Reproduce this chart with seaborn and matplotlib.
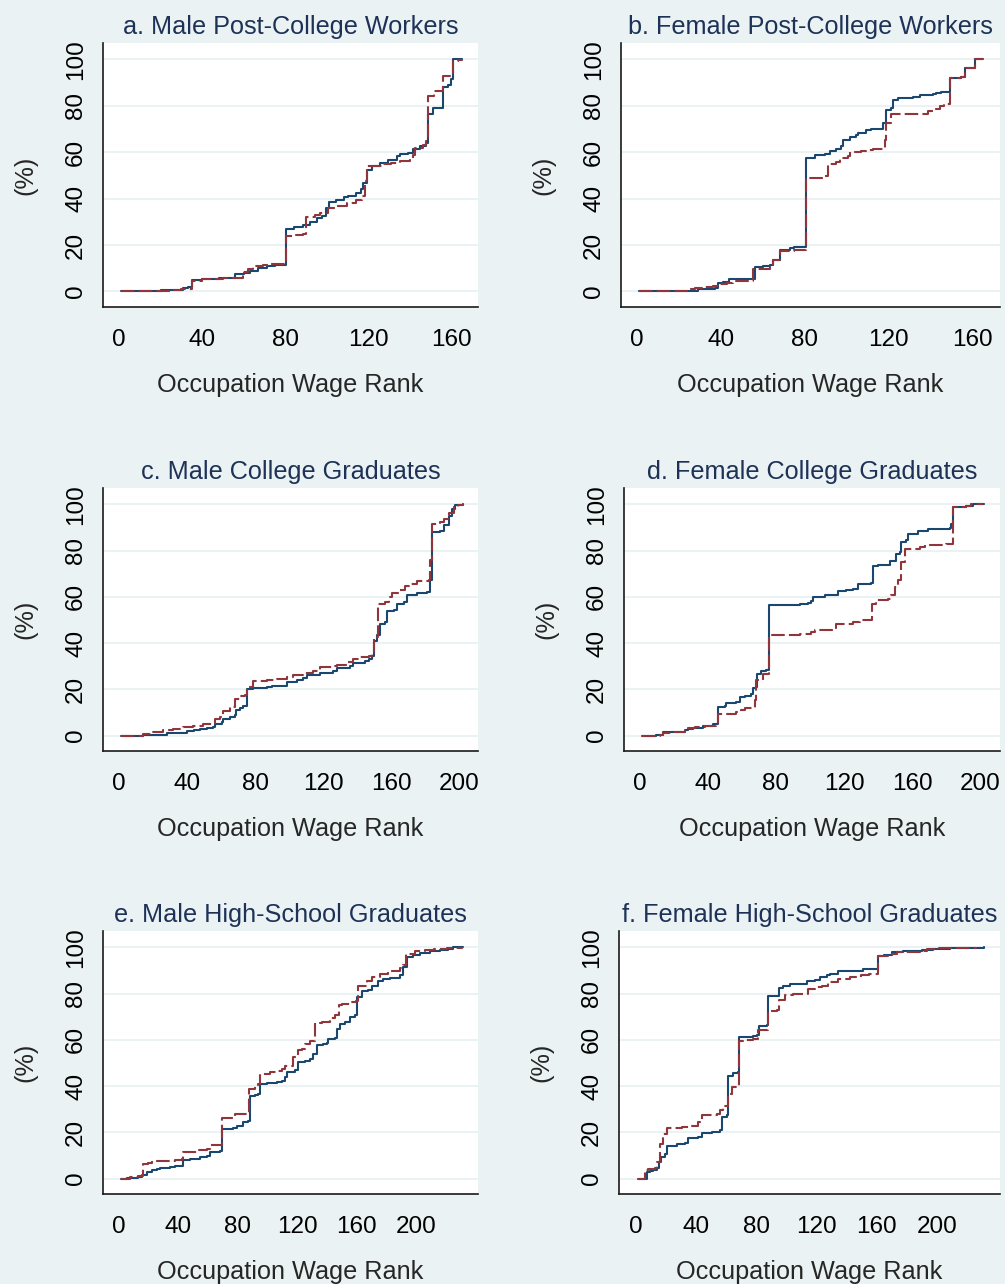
import matplotlib
matplotlib.use("Agg")
import matplotlib.pyplot as plt
import seaborn as sns
import pandas as pd

# ---- data: cumulative share (%) by occupation wage rank ----
# a. Male Post-College Workers
a_solid_x = [1, 10, 20, 28, 31, 33, 35, 40, 48, 56, 60, 63, 67, 71, 75, 80.5, 84, 88.5, 92, 95, 97.5, 99.5, 101,
             104.5, 108, 110, 114, 116.5, 117.5, 119, 121.5, 125.5, 129.5, 133.5, 135, 139, 141.5, 144.5, 147.5,
             148.6, 151, 155.8, 158, 159.8, 160.6, 165]
a_solid_y = [0, 0.3, 0.6, 0.8, 1.5, 2, 5, 5.5, 5.8, 7.5, 8, 9, 10, 11, 11.5, 26.9, 28, 28.8, 29.8, 31.7, 32.4, 36, 38.4,
             39.6, 40.7, 41.3, 42.4, 44, 46.8, 52.2, 54.2, 55.4, 56.8, 58.3, 59.4, 59.7, 61.4, 62.6, 64,
             76.3, 79.1, 88.2, 89, 91.4, 100, 100]
a_dash_x = [1, 15, 25, 30, 35, 39.7, 50, 55, 59.7, 62, 64.5, 69, 72, 80.5, 85, 88.6, 90, 94, 96.6, 100.6, 104.6, 109.4,
            114, 116.6, 118.2, 119, 127, 131, 135, 139.8, 141.4, 142.5, 146.2, 147.8, 148.6, 151.5, 155.8, 158,
            160.6, 163, 165]
a_dash_y = [0, 0.3, 0.8, 1.2, 4.6, 5.3, 5.8, 6, 8.6, 9.5, 10.8, 11.5, 11.8, 23.7, 24.3, 24.7, 32, 33, 34, 36, 36.7, 38.1,
            39.3, 41.3, 47.5, 54, 55, 55.4, 56.1, 57.6, 59, 61.9, 63.3, 64.7, 84.2, 86.6, 92.8, 93,
            99.3, 99.6, 100]

# b. Female Post-College Workers
b_solid_x = [1, 28.4, 29, 37, 38.7, 41, 44, 56, 60, 63.3, 65, 68, 72.8, 75, 80.7, 84.7, 89.4, 91.8, 95, 97.4, 98,
             101.3, 104.5, 105.3, 109.3, 111.6, 117.2, 118.8, 121, 122, 124.3, 131.5, 134.6, 141, 142.6, 145, 149,
             154.5, 156, 160.8, 165]
b_solid_y = [0, 0, 1.2, 1.4, 3.6, 4, 5.3, 10.4, 10.8, 11.5, 13.7, 18, 18.7, 19.1, 57.6, 59, 59.3, 60.4, 61.6, 62.9, 65.2,
             66.6, 67.6, 68.3, 69.5, 70.2, 72.7, 78.4, 79.1, 82.4, 83.5, 83.9, 84.6, 85.3, 85.6, 85.9, 91.8,
             92.4, 96.4, 100, 100]
b_dash_x = [1, 16.5, 23.6, 27.6, 31.5, 36.3, 39.5, 42.7, 45.8, 55.5, 63.3, 65, 68, 75, 80.7, 89.4, 91, 95, 96.6, 100.5,
            101.3, 106.8, 109.3, 112.4, 115.6, 118, 118.8, 121, 134, 138.6, 141.8, 144.2, 146, 149, 154.5, 156,
            160.8, 165]
b_dash_y = [0.3, 0.4, 1, 1.4, 1.9, 2.4, 3.3, 3.8, 4.3, 9.6, 10.8, 13.7, 17.3, 17.7, 48.9, 49.6, 55.1, 55.7, 57.6, 58.3,
            60, 60.4, 60.9, 61.2, 61.4, 65.5, 72.4, 76.3, 76.7, 77.7, 78.7, 80.1, 80.6, 91.8, 92.4, 96.4,
            100, 100]

# c. Male College Graduates
c_solid_x = [1, 14, 28, 40, 44, 47.6, 51.6, 55.5, 56.5, 60.4, 61.4, 65.3, 68.2, 68.8, 71.2, 73, 75.5, 79, 86.9, 89.8,
             96.7, 98.6, 104.5, 108.4, 110.4, 118.2, 126, 128, 135.9, 137.8, 144.7, 146.7, 148.6, 149.6, 151.6,
             153.5, 156.5, 157.5, 161.4, 163.3, 167.3, 169.2, 175, 181, 183, 183.9, 188.8, 190.8, 193.7, 195.7,
             197.6, 202.2]
c_solid_y = [0, 0.4, 1, 1.9, 2.2, 2.7, 3.3, 3.9, 5, 5.8, 7.2, 8.2, 8.7, 11.1, 12, 12.7, 20.2, 20.6, 20.9, 21.4,
             21.6, 23.1, 24.2, 25, 26, 27, 27.7, 29.3, 30, 31.5, 32.2, 33.2, 34.6, 41.1, 43.3,
             48.3, 49, 53.8, 54.1, 57, 57.7, 61, 61.6, 62.3, 67.1, 88, 88.5, 90.9, 95.2, 98.1,
             99.6, 100]
c_dash_x = [1, 14, 20.2, 26, 32, 37.8, 43.7, 49.6, 55.5, 56.5, 59.4, 61.4, 65.3, 68.2, 71.2, 74.1, 75.5, 79, 86.9, 92.7,
            98.6, 102.5, 108.4, 114.3, 118.2, 126, 128, 133.9, 137.8, 141.8, 146.7, 148.6, 149.6, 152.5, 156.5,
            158.4, 160.4, 165.3, 168.2, 170.2, 175.1, 182, 183, 183.9, 188.8, 190.8, 193.7, 196.7, 199, 202]
c_dash_y = [0, 0.7, 1.4, 2.6, 3, 3.9, 4.3, 5, 5.3, 7.2, 7.9, 10.5, 12.3, 15.9, 16.9, 17.7, 21.2, 23.8, 24.1, 24.4,
            25.5, 26.4, 27, 28.1, 29.6, 29.9, 30.7, 31.7, 33.2, 33.9, 34.2, 35.1, 42.6, 57, 57.7,
            59.9, 61.6, 63.1, 64.5, 65.7, 66.8, 67.1, 75.8, 91.6, 92.4, 93.8, 96.2, 98.8, 99.6, 100]

# d. Female College Graduates
d_solid_x = [1, 9.6, 11.6, 13.5, 19.4, 26.3, 28.2, 31.2, 37.1, 42.9, 44.9, 45.9, 49.8, 50.8, 56.7, 58.6, 61.6, 65.5,
             66.5, 68, 68.8, 71.4, 74.3, 75.9, 86.1, 93.9, 98.8, 100.8, 101.8, 108.6, 115.5, 116.5, 121.4, 125.3,
             128.2, 136.1, 137.1, 140, 146.9, 150.8, 152.7, 153.7, 156.7, 157.6, 161.6, 163.5, 167.5, 169.4,
             182.2, 183.1, 184.1, 192, 195.9, 202.2]
d_solid_y = [0, 0.1, 0.4, 1.4, 1.7, 2.2, 2.7, 3.3, 4.3, 4.8, 5, 12.3, 12.7, 14.1, 14.7, 16.6, 17.3, 18,
             20.6, 21, 26.7, 28.1, 28.4, 56.3, 56.6, 57, 57.3, 58.2, 59.9, 60.6, 61, 62.5, 62.8, 63.5,
             65.4, 65.9, 73.2, 73.6, 75.5, 78.6, 79.4, 83.7, 84.4, 87, 87.3, 88.5, 88.7, 89.5,
             89.9, 91.6, 98.8, 99.1, 100, 100]
d_dash_x = [1, 11.6, 13.5, 19.4, 26.3, 28.2, 32.2, 38, 44.9, 45.9, 52.7, 56.7, 59.6, 61.6, 67.5, 68.4, 72.4, 75.9,
            86.1, 93.9, 100.8, 102.7, 113.5, 115.5, 121.4, 125.3, 129.2, 135.1, 136.7, 139, 145.9, 147.8, 149.8,
            151.8, 153.7, 155.7, 164.5, 167.5, 180, 184.1, 192, 194.9, 202]
d_dash_y = [0, 0.4, 1, 1.4, 1.9, 3.3, 3.9, 4.3, 5, 9.1, 9.4, 10.1, 11.1, 11.8, 15.2, 24.1, 26.7, 43.3,
            43.7, 44, 44.7, 45.7, 46.6, 48.1, 48.3, 49.1, 49.8, 50.2, 57, 58.7, 59.2, 60.6, 64.2,
            67.1, 75, 80.8, 81.5, 82.5, 83, 98.8, 99.1, 100, 100]

# e. Male High-School Graduates
e_solid_x = [1, 5.2, 13, 15.3, 18.6, 22, 25.4, 27.6, 34.3, 37.7, 42.2, 43.3, 47.8, 54.5, 59, 61.3, 68, 69.1, 77, 79.2,
             83.7, 87.1, 88.2, 91.6, 93.8, 94.9, 99.4, 106.2, 109.5, 111.8, 113.4, 118.5, 120.8, 125.3, 128.6,
             130.9, 133.1, 137.6, 139.8, 141, 145.5, 146.6, 148.8, 152.2, 155.6, 158.9, 160, 163.4, 167.9, 170.1,
             174.6, 178, 182.5, 189.2, 191.5, 193.7, 198.2, 202.7, 209.4, 216.2, 221.8, 225.1, 231.4]
e_solid_y = [0, 0.1, 0.6, 1.7, 2.7, 3.8, 4, 4.6, 4.9, 5.3, 5.5, 7.8, 8.5, 9.2, 9.8, 11.4, 11.7, 21.5, 21.8, 22.9,
             24.4, 24.8, 35.5, 36.2, 36.7, 40.7, 41.4, 41.7, 42.4, 43.9, 46.3, 46.8, 50.4, 50.8, 51.8,
             53.7, 57.6, 58.3, 58.7, 60.5, 60.6, 64.8, 67, 67.7, 69.8, 70.9, 78.5, 81.1, 81.4, 83.5,
             85.3, 86.4, 86.7, 87.9, 91.5, 95.8, 96.5, 97.5, 98.3, 98.7, 99.4, 100, 100]
e_dash_x = [1, 7.4, 13, 16.4, 19.8, 22, 37.7, 42.2, 43.3, 53.4, 59, 61.3, 68, 69.1, 78, 87.8, 91.6, 93.8, 94.9, 101.6,
            107.3, 109.5, 111.8, 117.4, 120.8, 123, 125.3, 128.6, 132, 136.5, 142.1, 145.5, 147.8, 150, 155.6,
            159.6, 161.2, 166.8, 170.1, 175.8, 181.4, 189.2, 191.5, 193.3, 199.5, 206.3, 211.9, 220.9, 231]
e_dash_y = [0, 0.6, 1.2, 6.1, 6.6, 7.6, 7.8, 8.4, 11.4, 12.4, 12.8, 14.3, 14.7, 26.3, 27.7, 38.8, 40.3, 41, 45.3, 46,
            46.5, 47.2, 48.9, 52.5, 55.4, 56.1, 58.3, 59.5, 67.2, 67.7, 69.6, 70.6, 74.9, 75.6, 76.3,
            76.8, 83.5, 85.4, 87.2, 88.6, 90, 91.2, 92.2, 97, 98.4, 99, 99.4, 99.9, 100]

# f. Female High-School Graduates
f_solid_x = [1, 4.9, 7.1, 9.3, 11.5, 13.7, 15.5, 16.4, 19.3, 20.8, 25.9, 27, 32.6, 34.8, 41.4, 43.6, 50.3, 55.8, 56.9,
             60.2, 61.4, 64.7, 67.6, 68.7, 78, 80.2, 82, 86.8, 87.9, 95.2, 97.9, 102.3, 111.2, 113.4, 118.9, 122.3,
             126.7, 128.9, 134.4, 146.6, 151, 161.1, 164.5, 169.9, 177.6, 189.8, 197.6, 208.6, 231.2]
f_solid_y = [0, 0, 2.7, 3.2, 3.5, 4.6, 7.1, 9.5, 10.4, 13.9, 14, 15, 15.3, 17.5, 17.9, 19.6, 20.1, 20.8, 26.6,
             27.3, 44.2, 45.6, 46, 61.2, 61.5, 62.3, 66.2, 66.5, 78.8, 82.5, 83.5, 84, 84.3, 85.4, 86, 87.2,
             87.9, 88.6, 89.8, 90, 90.8, 96.1, 96.5, 98, 98.3, 98.7, 99.4, 99.9, 100]
f_dash_x = [1, 6, 8.2, 12.6, 13.7, 15.9, 18.2, 20.4, 30.3, 35.9, 41.4, 43.6, 48.1, 53.6, 55.8, 58, 61.4, 63.6, 67.6,
            68.7, 72.4, 78, 81.3, 86.8, 87.9, 93.5, 95.2, 99, 104.5, 112.2, 114.5, 118.9, 123.4, 127.8, 134.4,
            142.1, 149.8, 155, 161.1, 167.7, 173.3, 188.7, 193.1, 199.8, 226]
f_dash_y = [0, 3.5, 4.2, 4.6, 7.1, 15, 19.3, 21.9, 22.2, 22.9, 24.4, 27.3, 27.6, 28, 29.7, 31.2, 36.7, 39.5, 40,
            59.7, 60, 60.5, 64.1, 64.4, 72.7, 73, 77.1, 79.2, 79.7, 79.9, 82.1, 82.8, 83.5, 85, 86.4,
            87.2, 87.9, 88.3, 96.1, 97.3, 98, 98.4, 99.4, 99.9, 100]

titles = ["a. Male Post-College Workers", "b. Female Post-College Workers",
          "c. Male College Graduates", "d. Female College Graduates",
          "e. Male High-School Graduates", "f. Female High-School Graduates"]
x_ticks = [[0, 40, 80, 120, 160], [0, 40, 80, 120, 160],
           [0, 40, 80, 120, 160, 200], [0, 40, 80, 120, 160, 200],
           [0, 40, 80, 120, 160, 200], [0, 40, 80, 120, 160, 200]]
y_ticks = [0, 20, 40, 60, 80, 100]

panels = [(a_solid_x, a_solid_y, a_dash_x, a_dash_y), (b_solid_x, b_solid_y, b_dash_x, b_dash_y),
          (c_solid_x, c_solid_y, c_dash_x, c_dash_y), (d_solid_x, d_solid_y, d_dash_x, d_dash_y),
          (e_solid_x, e_solid_y, e_dash_x, e_dash_y), (f_solid_x, f_solid_y, f_dash_x, f_dash_y)]

# ---- style (Stata s2color look) ----
sns.set_style("white")
plt.rcParams['font.family'] = ['Liberation Sans', 'DejaVu Sans']
BG = "#eaf2f3"
NAVY = "#1a476f"
MAROON = "#90353b"
TITLE_C = "#1e3257"

W, H = 1005, 1284
fig = plt.figure(figsize=(W / 100, H / 100), dpi=100, facecolor=BG)

# axes boxes in pixels: left, right, top, bottom; plus x limits
boxes = [(103, 478, 43, 307, (-7.7, 172.6)), (621, 1000, 43, 307, (-7.6, 172.9)),
         (103, 478, 488, 751, (-9.4, 211.0)), (624, 1000, 488, 751, (-9.4, 211.8)),
         (103, 478, 931, 1194, (-10.8, 241.7)), (619, 1000, 931, 1194, (-11.3, 241.9))]

for i, (l, r, t, b, xl) in enumerate(boxes):
    ax = fig.add_axes([l / W, 1 - b / H, (r - l) / W, (b - t) / H])
    ax.set_facecolor("white")
    sx, sy, dx, dy = panels[i]
    for yv in y_ticks:
        ax.axhline(yv, color=BG, lw=1.4, zorder=0)
    sns.lineplot(x=sx, y=sy, ax=ax, color=NAVY, lw=1.5, drawstyle="steps-post", estimator=None, zorder=2)
    sns.lineplot(x=dx, y=dy, ax=ax, color=MAROON, lw=1.5, drawstyle="steps-post", estimator=None,
                 linestyle=(0, (6.5, 2)), zorder=3)
    ax.set_xlim(*xl)
    ax.set_ylim(-6.7, 107.1)
    ax.set_xticks(x_ticks[i])
    ax.set_yticks(y_ticks)
    ax.set_yticklabels([str(v) for v in y_ticks], rotation=90, va="center")
    for s in ["top", "right"]:
        ax.spines[s].set_visible(False)
    for s in ["left", "bottom"]:
        ax.spines[s].set_color("#1a1a1a")
        ax.spines[s].set_linewidth(1.2)
    ax.tick_params(axis="both", direction="out", length=7, width=1.2, color="#1a1a1a",
                   labelsize=17.5, labelcolor="black")
    ax.tick_params(axis="x", pad=9)
    ax.tick_params(axis="y", pad=4.5)
    ax.set_title(titles[i], fontsize=18.2, color=TITLE_C, pad=6.5)
    ax.set_xlabel("Occupation Wage Rank", fontsize=18.2, labelpad=16)
    ax.set_ylabel("(%)", fontsize=18.2, labelpad=20)

fig.savefig("out.png", dpi=100, facecolor=BG)
